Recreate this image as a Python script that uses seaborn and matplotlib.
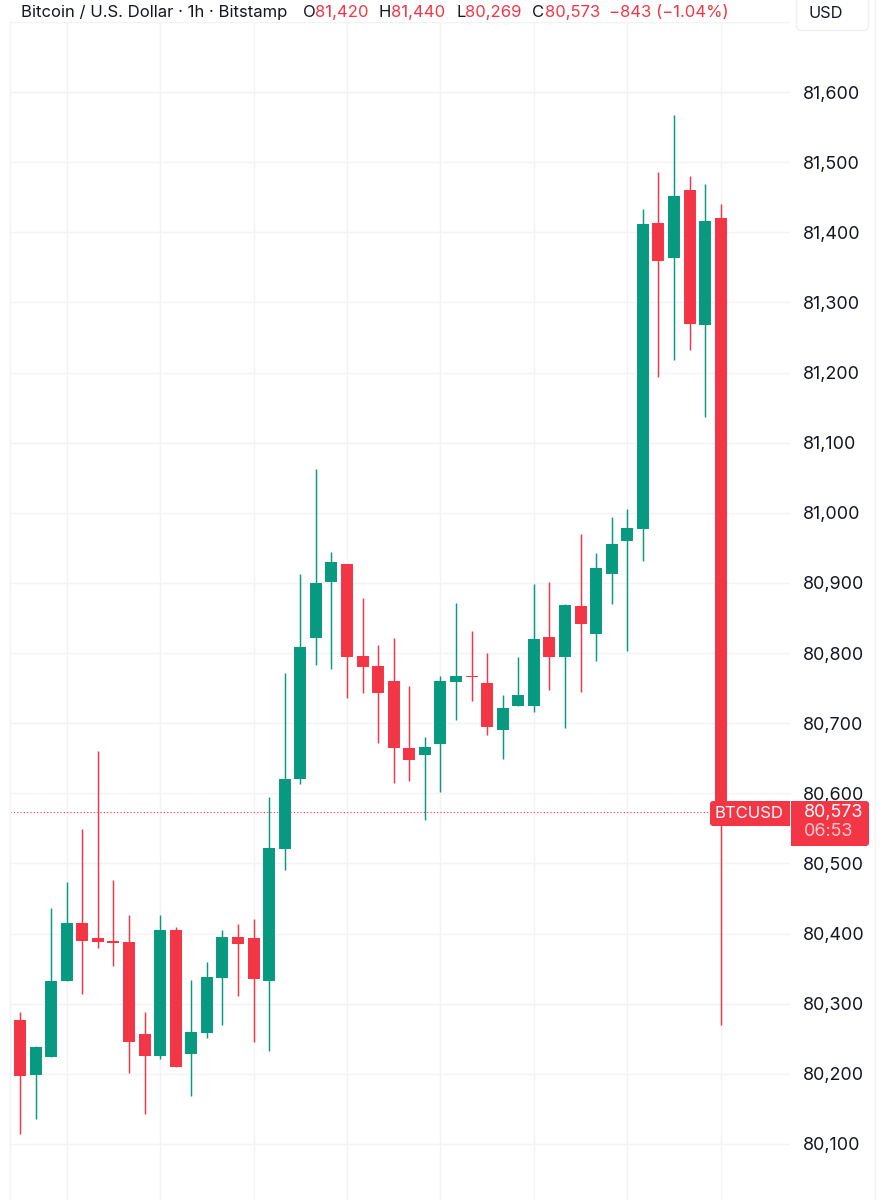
import matplotlib
matplotlib.use("Agg")
import matplotlib.pyplot as plt
import numpy as np
import pandas as pd
import seaborn as sns
from matplotlib.patches import FancyBboxPatch, Rectangle

RED = "#F23645"
GREEN = "#089981"
GRID = "#F2F3F4"
INK = "#131722"

# hourly candles
opens = [80277, 80198, 80224, 80332, 80415, 80393, 80389, 80388, 80257, 80225,
         80405, 80228, 80258, 80337, 80395, 80394, 80332, 80521, 80621, 80822,
         80902, 80927, 80796, 80781, 80760, 80665, 80655, 80671, 80759, 80768,
         80758, 80690, 80724, 80724, 80823, 80794, 80867, 80827, 80913, 80960,
         80977, 81413, 81363, 81460, 81268, 81420]
closes = [80197, 80238, 80333, 80415, 80389, 80388, 80387, 80245, 80225, 80405,
          80210, 80260, 80338, 80395, 80385, 80335, 80522, 80621, 80808, 80900,
          80930, 80794, 80780, 80743, 80664, 80648, 80666, 80760, 80768, 80766,
          80695, 80722, 80740, 80820, 80794, 80869, 80841, 80921, 80955, 80978,
          81412, 81359, 81452, 81269, 81416, 80573]
highs = [80288, 80240, 80437, 80474, 80549, 80660, 80477, 80426, 80288, 80426,
         80409, 80334, 80359, 80405, 80413, 80421, 80595, 80772, 80913, 81063,
         80944, 80927, 80879, 80812, 80822, 80753, 80680, 80768, 80872, 80831,
         80800, 80740, 80795, 80898, 80902, 80870, 80970, 80943, 80994, 81006,
         81433, 81486, 81568, 81481, 81469, 81440]
lows = [80114, 80135, 80224, 80332, 80314, 80380, 80354, 80201, 80143, 80221,
        80210, 80168, 80251, 80270, 80311, 80246, 80233, 80491, 80613, 80783,
        80777, 80736, 80743, 80672, 80614, 80617, 80562, 80602, 80704, 80731,
        80683, 80649, 80724, 80716, 80748, 80693, 80745, 80788, 80870, 80803,
        80931, 81194, 81218, 81232, 81136, 80269]
price_ticks = [80100, 80200, 80300, 80400, 80500, 80600, 80700, 80800, 80900,
               81000, 81100, 81200, 81300, 81400, 81500, 81600, 81700]
time_grid = [3, 9, 15, 21, 27, 33, 39, 45]
last_price = 80573

candles = pd.DataFrame({"i": range(len(opens)), "open": opens, "close": closes,
                        "high": highs, "low": lows})
candles["side"] = np.where(candles["close"] < candles["open"], "down", "up")
palette = {"down": RED, "up": GREEN}

wicks = candles.melt(id_vars=["i", "side"], value_vars=["high", "low"], value_name="price")
bodies = candles.melt(id_vars=["i", "side"], value_vars=["open", "close"], value_name="price")

sns.set_theme(style="white")
plt.rcParams["font.family"] = ["Inter", "DejaVu Sans"]

fig = plt.figure(figsize=(8.8, 12), dpi=100, facecolor="white")
ax = fig.add_axes([9.5 / 880, 0, (790 - 9.5) / 880, 1178 / 1200])

sns.lineplot(data=wicks, x="i", y="price", hue="side", units="i", estimator=None,
             palette=palette, linewidth=1.05, legend=False, ax=ax, zorder=3,
             solid_capstyle="butt")
sns.lineplot(data=bodies, x="i", y="price", hue="side", units="i", estimator=None,
             palette=palette, linewidth=8.6, legend=False, ax=ax, zorder=4,
             solid_capstyle="butt")

ax.set_xlim(-0.674, 49.45)
ax.set_ylim(80020, 81700)
ax.set_xticks(time_grid)
ax.set_xticklabels([])
ax.set_yticks(price_ticks)
ax.set_yticklabels([f"{p:,}" if p < 81700 else "" for p in price_ticks])
ax.yaxis.tick_right()
ax.tick_params(axis="y", length=0, pad=9.4, labelsize=12.9, labelcolor=INK)
ax.tick_params(axis="x", length=0)
ax.set_xlabel("")
ax.set_ylabel("")
ax.grid(True, color=GRID, linewidth=1)
ax.set_axisbelow(True)
for name in ["top", "right", "bottom"]:
    ax.spines[name].set_visible(False)
ax.spines["left"].set_color(GRID)
ax.spines["left"].set_linewidth(1)
ax.axhline(last_price, color=RED, linewidth=0.8, linestyle=(0, (1, 2)), zorder=2)

# overlay in pixels for the TradingView header and price tags
top = fig.add_axes([0, 0, 1, 1], facecolor="none")
top.set_xlim(0, 880)
top.set_ylim(1200, 0)
top.axis("off")

top.plot([874.5, 874.5], [0, 1200], color=GRID, linewidth=1)
top.add_patch(FancyBboxPatch((796.5, -20), 72, 50.5, boxstyle="round,pad=0,rounding_size=5",
                             facecolor="white", edgecolor="#EFEFF1", linewidth=1))
top.text(826, 13, "USD", fontsize=11.8, color=INK, ha="center", va="center")

header = [(21, "Bitcoin / U.S. Dollar · 1h · Bitstamp", INK),
          (303, "O", INK), (315, "81,420", RED),
          (379, "H", INK), (391, "81,440", RED),
          (456, "L", INK), (465, "80,269", RED),
          (532, "C", INK), (545, "80,573", RED),
          (609, "−843 (−1.04%)", RED)]
for x, label, color in header:
    top.text(x, 12.5, label, fontsize=12, color=color, ha="left", va="center")

top.add_patch(FancyBboxPatch((710, 801), 80, 25, boxstyle="round,pad=0,rounding_size=3",
                             facecolor=RED, edgecolor="none", zorder=5))
top.add_patch(Rectangle((780, 801), 10, 25, facecolor=RED, edgecolor="none", zorder=5))
top.text(749.5, 813.5, "BTCUSD", fontsize=12, color="white", ha="center", va="center", zorder=6)

top.add_patch(FancyBboxPatch((791, 801), 78, 45, boxstyle="round,pad=0,rounding_size=3",
                             facecolor=RED, edgecolor="none", zorder=5))
top.add_patch(Rectangle((791, 801), 10, 45, facecolor=RED, edgecolor="none", zorder=5))
top.text(803.5, 812, "80,573", fontsize=12.9, color="white", ha="left", va="center", zorder=6)
top.text(803.5, 832, "06:53", fontsize=12.9, color="#FBC9CE", ha="left", va="center", zorder=6)

fig.savefig("out.png", dpi=100)
